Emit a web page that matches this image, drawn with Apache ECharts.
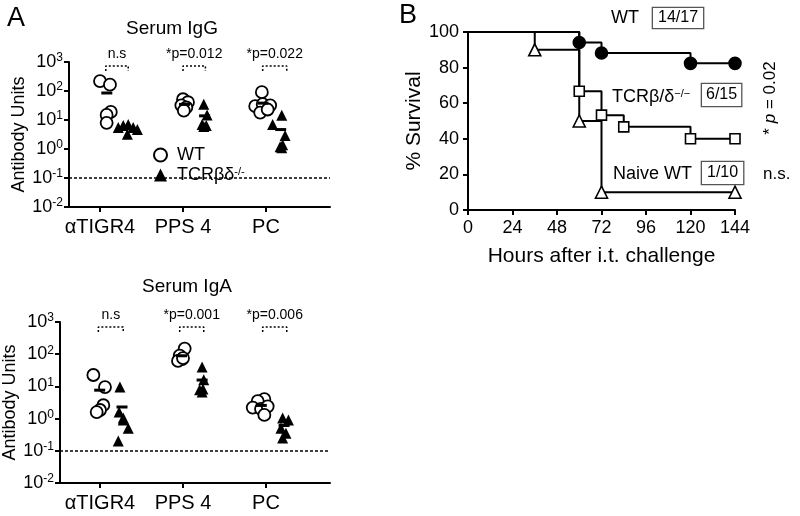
<!DOCTYPE html>
<html><head><meta charset="utf-8">
<script src="https://cdn.jsdelivr.net/npm/echarts@6/dist/echarts.min.js"></script>
<style>html,body{margin:0;padding:0;background:#fff}#c{width:800px;height:516px}</style>
</head><body><div id="c"></div>
<script>
const FONT = '"Liberation Sans", Arial, Helvetica, sans-serif';

// ---------- Panel A data (x = category index + jitter, y = antibody units) ----------
const categories = ['αTIGR4', 'PPS 4', 'PC'];

const iggWT = [[0.00,220],[0.12,165],[0.13,19],[0.08,15],[0.08,8],
               [1.00,52],[1.06,41],[0.98,32],[1.04,27],[1.01,21],
               [1.95,91],[1.87,30],[1.96,35],[2.05,32],[1.93,18],[2.02,23]];
const iggKO = [[0.22,5.5],[0.28,6.5],[0.34,7],[0.40,5.5],[0.45,4.7],[0.33,3.2],
               [1.25,35],[1.29,15],[1.23,7],[1.28,6.5],[1.25,6],
               [2.19,14.5],[2.08,7],[2.23,2.9],[2.20,1.4],[2.17,1.2],[2.19,1.1]];
const igaWT = [[-0.08,22.6],[0.06,9.5],[0.04,2.6],[0.00,1.85],[-0.04,1.6],
               [1.02,150],[0.96,90],[0.99,70],[0.94,62],[1.00,75],
               [1.98,4.0],[1.90,3.5],[1.84,2.2],[1.94,2.0],[2.02,2.4],[1.98,1.3]];
const igaKO = [[0.24,9.5],[0.23,1.6],[0.28,1.05],[0.28,0.9],[0.34,0.5],[0.22,0.2],
               [1.23,40],[1.25,16],[1.20,7.8],[1.23,6.7],[1.24,8.3],
               [2.20,1.05],[2.27,0.9],[2.18,0.5],[2.24,0.35],[2.20,0.25]];

const iggBrackets = [[0.07,0.34],[1.00,1.27],[1.96,2.25]];
const iggP = ['n.s', '*p=0.012', '*p=0.022'];
const igaBrackets = [[-0.02,0.28],[0.96,1.25],[1.96,2.25]];
const igaP = ['n.s', '*p=0.001', '*p=0.006'];
const detectionLimit = 0.1;

// ---------- Panel B data (Kaplan-Meier) ----------
const hoursWT = [0, 60, 72, 120, 144];
const survWT  = [100, 94.1, 88.2, 82.4, 82.4];
const hoursKO = [0, 60, 72, 84, 120, 144];
const survKO  = [100, 66.7, 53.3, 46.7, 40, 40];
const hoursNaive = [0, 36, 60, 72, 144];
const survNaive  = [100, 90, 50, 10, 10];
const hourTicks = [0, 24, 48, 72, 96, 120, 144];

// ---------- helpers ----------
function means(pts) {
  const g = {};
  pts.forEach(p => { const k = Math.round(p[0]); (g[k] = g[k] || []).push(p); });
  return Object.keys(g).map(k => {
    const a = g[k];
    return [a.reduce((s,p)=>s+p[0],0)/a.length, a.reduce((s,p)=>s+p[1],0)/a.length];
  });
}
const supRich = { b: {fontSize: 18, fontFamily: FONT, color:'#000', lineHeight: 20},
                  s: {fontSize: 12, fontFamily: FONT, color:'#000', lineHeight: 12, verticalAlign: 'top'} };

function aAxes(gi, xmin) {
  const x = {
    type: 'value', gridIndex: gi, min: xmin, max: 2.771,
    axisLine: {show: true, onZero: false, lineStyle: {color: '#000', width: 2}},
    axisTick: {show: true, customValues: [0,1,2], length: 5, lineStyle: {color:'#000', width: 2}},
    axisLabel: {show: true, customValues: [0,1,2], formatter: v => categories[Math.round(v)],
                fontSize: 20, fontFamily: FONT, color: '#000', margin: 10},
    splitLine: {show: false}
  };
  const y = {
    type: 'log', gridIndex: gi, min: 0.01, max: 1000, logBase: 10,
    name: 'Antibody Units', nameLocation: 'middle', nameGap: gi === 0 ? 38 : 34,
    nameTextStyle: {fontSize: 18, fontFamily: FONT, color: '#000'},
    axisLine: {show: true, onZero: false, lineStyle: {color: '#000', width: 2}},
    axisTick: {show: true, length: 5, lineStyle: {color:'#000', width: 2}},
    axisLabel: {margin: 6, formatter: v => '{b|10}{s|' + Math.round(Math.log10(v)) + '}', rich: supRich},
    splitLine: {show: false}, minorTick: {show: false}
  };
  return [x, y];
}

function aSeries(gi, wt, ko, brackets, ptxt, lo, hi, wtName, koName) {
  const s = [];
  s.push({type: 'scatter', name: wtName, xAxisIndex: gi, yAxisIndex: gi, data: wt,
          symbol: 'circle', symbolSize: 12, z: 3,
          itemStyle: {color: '#fff', borderColor: '#000', borderWidth: 1.8, opacity: 1},
          markLine: {silent: true, symbol: ['none','none'], label: {show: false},
                     lineStyle: {type: [3,2], color: '#000', width: 1.5},
                     data: [{yAxis: detectionLimit}]}});
  s.push({type: 'scatter', name: koName, xAxisIndex: gi, yAxisIndex: gi, data: ko,
          symbol: 'triangle', symbolSize: 11, z: 3, itemStyle: {color: '#000', opacity: 1}});
  s.push({type: 'scatter', name: 'mean' + gi, xAxisIndex: gi, yAxisIndex: gi,
          data: means(wt).concat(means(ko)), symbol: 'rect', symbolSize: [11, 3], z: 4,
          itemStyle: {color: '#000', opacity: 1}});
  brackets.forEach((b, i) => {
    s.push({type: 'line', xAxisIndex: gi, yAxisIndex: gi, silent: true, symbol: 'none',
            data: [[b[0], lo], [b[0], hi], [b[1], hi], [b[1], lo]],
            lineStyle: {color: '#000', width: 1.5, type: [2, 2]}});
    s.push({type: 'scatter', xAxisIndex: gi, yAxisIndex: gi, silent: true, symbolSize: 0,
            data: [[(b[0] + b[1]) / 2, hi]], itemStyle: {opacity: 1},
            label: {show: true, position: 'top', distance: 5, formatter: ptxt[i],
                    fontSize: 14, fontFamily: FONT, color: '#000'}});
  });
  return s;
}

function kmSeries(name, hrs, surv, symbol, size, fill) {
  return {type: 'line', name, xAxisIndex: 2, yAxisIndex: 2, step: 'end',
          data: hrs.map((h, i) => i === 0 ? {value: [h, surv[i]], symbol: 'none'} : [h, surv[i]]),
          symbol, symbolSize: size, showAllSymbol: true, z: 3,
          lineStyle: {color: '#000', width: 2},
          itemStyle: {color: fill, borderColor: '#000', borderWidth: 1.6}};
}

const axA0 = aAxes(0, -0.3735);
const axA1 = aAxes(1, -0.482);

const option = {
  animation: false,
  textStyle: {fontFamily: FONT},
  title: [
    {text: 'Serum IgG', left: 167, top: 14, textAlign: 'center',
     textStyle: {fontSize: 19, fontWeight: 'normal', fontFamily: FONT, color: '#000'}},
    {text: 'Serum IgA', left: 182, top: 272, textAlign: 'center',
     textStyle: {fontSize: 19, fontWeight: 'normal', fontFamily: FONT, color: '#000'}}
  ],
  legend: {
    data: ['WT', 'TCRβδ-/-'], orient: 'vertical', left: 148, top: 141,
    itemWidth: 13, itemHeight: 13, itemGap: 2, selectedMode: false,
    formatter: n => n === 'WT' ? 'WT' : 'TCRβδ{s|-/-}',
    textStyle: {fontSize: 18, fontFamily: FONT, color: '#000', padding: [0,0,0,5],
                rich: {s: {fontSize: 11, lineHeight: 11, verticalAlign: 'top', fontFamily: FONT, color: '#000'}}}
  },
  grid: [
    {left: 69, top: 62, width: 261, height: 145},
    {left: 60, top: 322, width: 270, height: 161},
    {left: 468, top: 32, width: 267, height: 178}
  ],
  xAxis: [axA0[0], axA1[0], {
    type: 'value', gridIndex: 2, min: 0, max: 144, interval: 24,
    name: 'Hours after i.t. challenge', nameLocation: 'middle', nameGap: 36,
    nameTextStyle: {fontSize: 21, fontFamily: FONT, color: '#000'},
    axisLine: {show: true, lineStyle: {color: '#000', width: 2}},
    axisTick: {show: true, length: 5, lineStyle: {color: '#000', width: 2}},
    axisLabel: {fontSize: 18, fontFamily: FONT, color: '#000', margin: 9,
                customValues: hourTicks},
    splitLine: {show: false}
  }],
  yAxis: [axA0[1], axA1[1], {
    type: 'value', gridIndex: 2, min: 0, max: 100, interval: 20,
    name: '% Survival', nameLocation: 'middle', nameGap: 38,
    nameTextStyle: {fontSize: 21, fontFamily: FONT, color: '#000'},
    axisLine: {show: true, lineStyle: {color: '#000', width: 2}},
    axisTick: {show: true, length: 5, lineStyle: {color: '#000', width: 2}},
    axisLabel: {fontSize: 18, fontFamily: FONT, color: '#000', margin: 9},
    splitLine: {show: false}
  }],
  series: [].concat(
    aSeries(0, iggWT, iggKO, iggBrackets, iggP, 490, 730, 'WT', 'TCRβδ-/-'),
    aSeries(1, igaWT, igaKO, igaBrackets, igaP, 490, 700, 'WT IgA', 'KO IgA'),
    [
      kmSeries('WT B', hoursWT, survWT, 'circle', 12, '#000'),
      kmSeries('KO B', hoursKO, survKO, 'rect', 10, '#fff'),
      kmSeries('Naive B', hoursNaive, survNaive, 'triangle', 12, '#fff'),
      {type: 'line', xAxisIndex: 2, yAxisIndex: 2, silent: true, symbol: 'none', clip: false,
       data: [[150.5, 82.4], [153.2, 82.4], [153.2, 41], [150.5, 41]],
       lineStyle: {color: '#333', width: 1.3, type: [3, 2]}},
      {type: 'line', xAxisIndex: 2, yAxisIndex: 2, silent: true, symbol: 'none', clip: false,
       data: [[150.5, 38], [153.2, 38], [153.2, 10], [150.5, 10]],
       lineStyle: {color: '#333', width: 1.3, type: [3, 2]}}
    ]
  ),
  graphic: [
    {type: 'text', x: 7, y: 5, style: {text: 'A', font: '27px ' + FONT, fill: '#000'}},
    {type: 'text', x: 399, y: 2, style: {text: 'B', font: '27px ' + FONT, fill: '#000'}},
    {type: 'text', x: 611, y: 18, style: {text: 'WT', font: '18px ' + FONT, fill: '#000', verticalAlign: 'middle'}},
    {type: 'text', x: 653, y: 18, style: {text: '14/17', font: '16px ' + FONT, fill: '#000', verticalAlign: 'middle',
       lineHeight: 16, padding: [2, 5, 2, 5], borderColor: '#555', borderWidth: 1.3, backgroundColor: '#fff'}},
    {type: 'text', x: 612, y: 97, style: {text: 'TCRβ/δ{s|−/−}', font: '18px ' + FONT, fill: '#000', verticalAlign: 'middle',
       rich: {s: {fontSize: 11, lineHeight: 11, verticalAlign: 'top', fill: '#000', fontFamily: FONT}}}},
    {type: 'text', x: 702, y: 95, style: {text: '6/15', font: '16px ' + FONT, fill: '#000', verticalAlign: 'middle',
       lineHeight: 16, padding: [3, 4, 3, 4], borderColor: '#555', borderWidth: 1.3, backgroundColor: '#fff'}},
    {type: 'text', x: 613, y: 174, style: {text: 'Naive WT', font: '18px ' + FONT, fill: '#000', verticalAlign: 'middle'}},
    {type: 'text', x: 702, y: 173, style: {text: '1/10', font: '16px ' + FONT, fill: '#000', verticalAlign: 'middle',
       lineHeight: 16, padding: [3, 5, 3, 5], borderColor: '#555', borderWidth: 1.3, backgroundColor: '#fff'}},
    {type: 'text', x: 763, y: 174, style: {text: 'n.s.', font: '17px ' + FONT, fill: '#000', verticalAlign: 'middle'}},
    {type: 'text', x: 770, y: 98, rotation: Math.PI / 2,
     style: {text: '* {i|p} = 0.02', font: '17px ' + FONT, fill: '#000', align: 'center', verticalAlign: 'middle',
       rich: {i: {fontStyle: 'italic', fontSize: 17, fontFamily: FONT, fill: '#000'}}}}
  ]
};

const chart = echarts.init(document.getElementById('c'), null, {renderer: 'canvas'});
chart.setOption(option);
</script>
</body></html>
